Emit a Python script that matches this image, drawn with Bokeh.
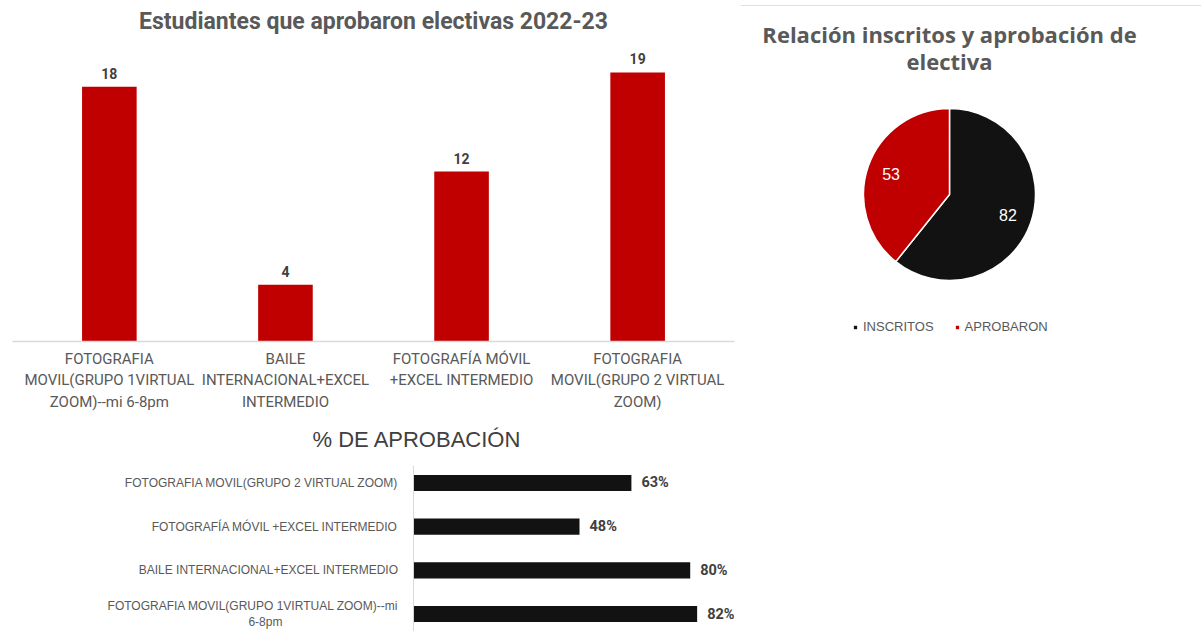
import numpy as np
from bokeh.plotting import figure
from bokeh.models import (Range1d, FactorRange, ColumnDataSource, LabelSet, Legend, LegendItem,
                          Label, Span)
from bokeh.layouts import row, column
from bokeh.embed import file_html
from bokeh.resources import INLINE
from bokeh.core.properties import value

# ---------------- data ----------------
cursos = [
    "FOTOGRAFIA\nMOVIL(GRUPO 1VIRTUAL\nZOOM)--mi 6-8pm",
    "BAILE\nINTERNACIONAL+EXCEL\nINTERMEDIO",
    "FOTOGRAFÍA MÓVIL\n+EXCEL INTERMEDIO",
    "FOTOGRAFIA\nMOVIL(GRUPO 2 VIRTUAL\nZOOM)",
]
aprobados = [18, 4, 12, 19]

pie_title = ["Relación inscritos y aprobación de", "electiva"]
pie_labels = ["INSCRITOS", "APROBARON"]
pie_values = [82, 53]

cursos_h = [
    "FOTOGRAFIA MOVIL(GRUPO 1VIRTUAL ZOOM)--mi\n6-8pm",
    "BAILE INTERNACIONAL+EXCEL INTERMEDIO",
    "FOTOGRAFÍA MÓVIL +EXCEL INTERMEDIO",
    "FOTOGRAFIA MOVIL(GRUPO 2 VIRTUAL ZOOM)",
]
porcentaje = [82, 80, 48, 63]

RED = "#C00000"
BLACK = "#121212"
GREY = "#595959"
DARK = "#404040"
COND = "Roboto"
SANS = "Liberation Sans"

# ---------------- top-left: vertical bars ----------------
pA = figure(width=740, height=413, output_backend="svg", toolbar_location=None,
            x_range=FactorRange(*cursos, range_padding=0.025),
            y_range=Range1d(0, 21.47),
            min_border_left=12, min_border_right=6, min_border_bottom=69, min_border_top=37,
            outline_line_color=None)
pA.title.text = "Estudiantes que aprobaron electivas 2022-23"
pA.title.align = "center"
pA.title.text_font = COND
pA.title.text_font_size = "23px"
pA.title.text_font_style = "bold"
pA.title.text_color = GREY
pA.title.standoff = 6

srcA = ColumnDataSource(dict(x=cursos, y=aprobados, t=[str(v) for v in aprobados]))
pA.vbar(x="x", top="y", width=0.31, source=srcA, fill_color=RED, line_color=None)
pA.add_layout(LabelSet(x="x", y="y", text="t", source=srcA, y_offset=8,
                       text_align="center", text_baseline="bottom",
                       text_font=value(COND), text_font_size="14px",
                       text_font_style="bold", text_color=DARK))
pA.yaxis.visible = False
pA.xgrid.grid_line_color = None
pA.ygrid.grid_line_color = None
pA.xaxis.axis_line_color = "#d9d9d9"
pA.xaxis.axis_line_width = 1.5
pA.xaxis.major_tick_line_color = None
pA.xaxis.minor_tick_line_color = None
pA.xaxis.major_label_text_font = COND
pA.xaxis.major_label_text_font_size = "15px"
pA.xaxis.major_label_text_color = GREY
pA.xaxis.major_label_text_line_height = 1.2
pA.xaxis.major_label_standoff = 2
pA.xaxis.major_label_orientation = "horizontal"

# ---------------- bottom-left: horizontal bars ----------------
pC = figure(width=740, height=218, output_backend="svg", toolbar_location=None,
            y_range=FactorRange(*cursos_h, range_padding=-0.05),
            x_range=Range1d(-115.9, 92.8),
            min_border_left=12, min_border_right=6, min_border_bottom=0, min_border_top=52,
            outline_line_color=None)
pC.title.text = "% DE APROBACIÓN"
pC.title.align = "left"
pC.title.offset = 300
pC.title.standoff = 23
pC.title.vertical_align = "top"
pC.title.text_font = SANS
pC.title.text_font_size = "22px"
pC.title.text_font_style = "normal"
pC.title.text_color = DARK

lines = [s.split("\n") for s in cursos_h]
srcC = ColumnDataSource(dict(y=cursos_h, x=porcentaje, t=[f"{v}%" for v in porcentaje],
                             l1=[l[0] for l in lines],
                             dy=[8 if len(l) > 1 else 0 for l in lines]))
srcC2 = ColumnDataSource(dict(y=[s for s, l in zip(cursos_h, lines) if len(l) > 1],
                              l2=[l[1] for l in lines if len(l) > 1]))
pC.hbar(y="y", right="x", left=0, height=0.37, source=srcC, fill_color=BLACK, line_color=None)
pC.add_layout(LabelSet(x="x", y="y", text="t", source=srcC, x_offset=10,
                       text_align="left", text_baseline="middle",
                       text_font=value(COND), text_font_size="14.5px",
                       text_font_style="bold", text_color=DARK))
pC.add_layout(LabelSet(x=0, y="y", text="l1", source=srcC, x_offset=-15, y_offset="dy",
                       text_align="right", text_baseline="middle",
                       text_font=value(SANS), text_font_size="12px", text_color=GREY))
pC.add_layout(LabelSet(x=0, y="y", text="l2", source=srcC2, x_offset=-148, y_offset=-8,
                       text_align="center", text_baseline="middle",
                       text_font=value(SANS), text_font_size="12px", text_color=GREY))
pC.add_layout(Span(location=0, dimension="height", line_color="#d9d9d9", line_width=1))
pC.axis.visible = False
pC.grid.grid_line_color = None

# ---------------- right: pie ----------------
pB = figure(width=461, height=410, output_backend="svg", toolbar_location=None, title=None,
            x_range=Range1d(-209, 252), y_range=Range1d(-216, 194),
            min_border_left=0, min_border_right=0, min_border_bottom=0, min_border_top=0,
            outline_line_color=None)
pB.axis.visible = False
pB.grid.grid_line_color = None
pB.add_layout(Span(location=189, dimension="width", line_color="#e0e0e0", line_width=1))
for i, txt in enumerate(pie_title):
    pB.add_layout(Label(x=0, y=161 - 27 * i, text=txt, text_align="center",
                        text_baseline="middle", text_font="Open Sans",
                        text_font_size="22px", text_font_style="bold", text_color=GREY))

vals = np.array(pie_values, dtype=float)
frac = vals / vals.sum()
cum = np.concatenate([[0], np.cumsum(frac)])
start = np.pi / 2 - cum[:-1] * 2 * np.pi
end = np.pi / 2 - cum[1:] * 2 * np.pi
mid = (start + end) / 2
R = 86
srcB = ColumnDataSource(dict(start=start, end=end, color=[BLACK, RED], label=pie_labels,
                             lx=0.72 * R * np.cos(mid), ly=0.72 * R * np.sin(mid),
                             t=[str(v) for v in pie_values]))
wr = pB.wedge(x=0, y=0, radius=R, start_angle="start", end_angle="end", direction="clock",
              fill_color="color", line_color="white", line_width=1.5, source=srcB)
pB.add_layout(LabelSet(x="lx", y="ly", text="t", source=srcB, text_align="center",
                       text_baseline="middle", text_font=value(SANS),
                       text_font_size="16px", text_color="white"))
leg = Legend(items=[LegendItem(label=pie_labels[i], renderers=[wr], index=i) for i in range(2)],
             orientation="horizontal", location=(112, 76), padding=0, margin=0, spacing=20,
             glyph_width=6, glyph_height=6, label_standoff=5,
             label_text_font=SANS, label_text_font_size="13px", label_text_color=GREY,
             border_line_color=None, background_fill_alpha=0)
pB.add_layout(leg)

layout = row(column(pA, pC), pB)
open("out.html", "w").write(file_html(layout, INLINE))
